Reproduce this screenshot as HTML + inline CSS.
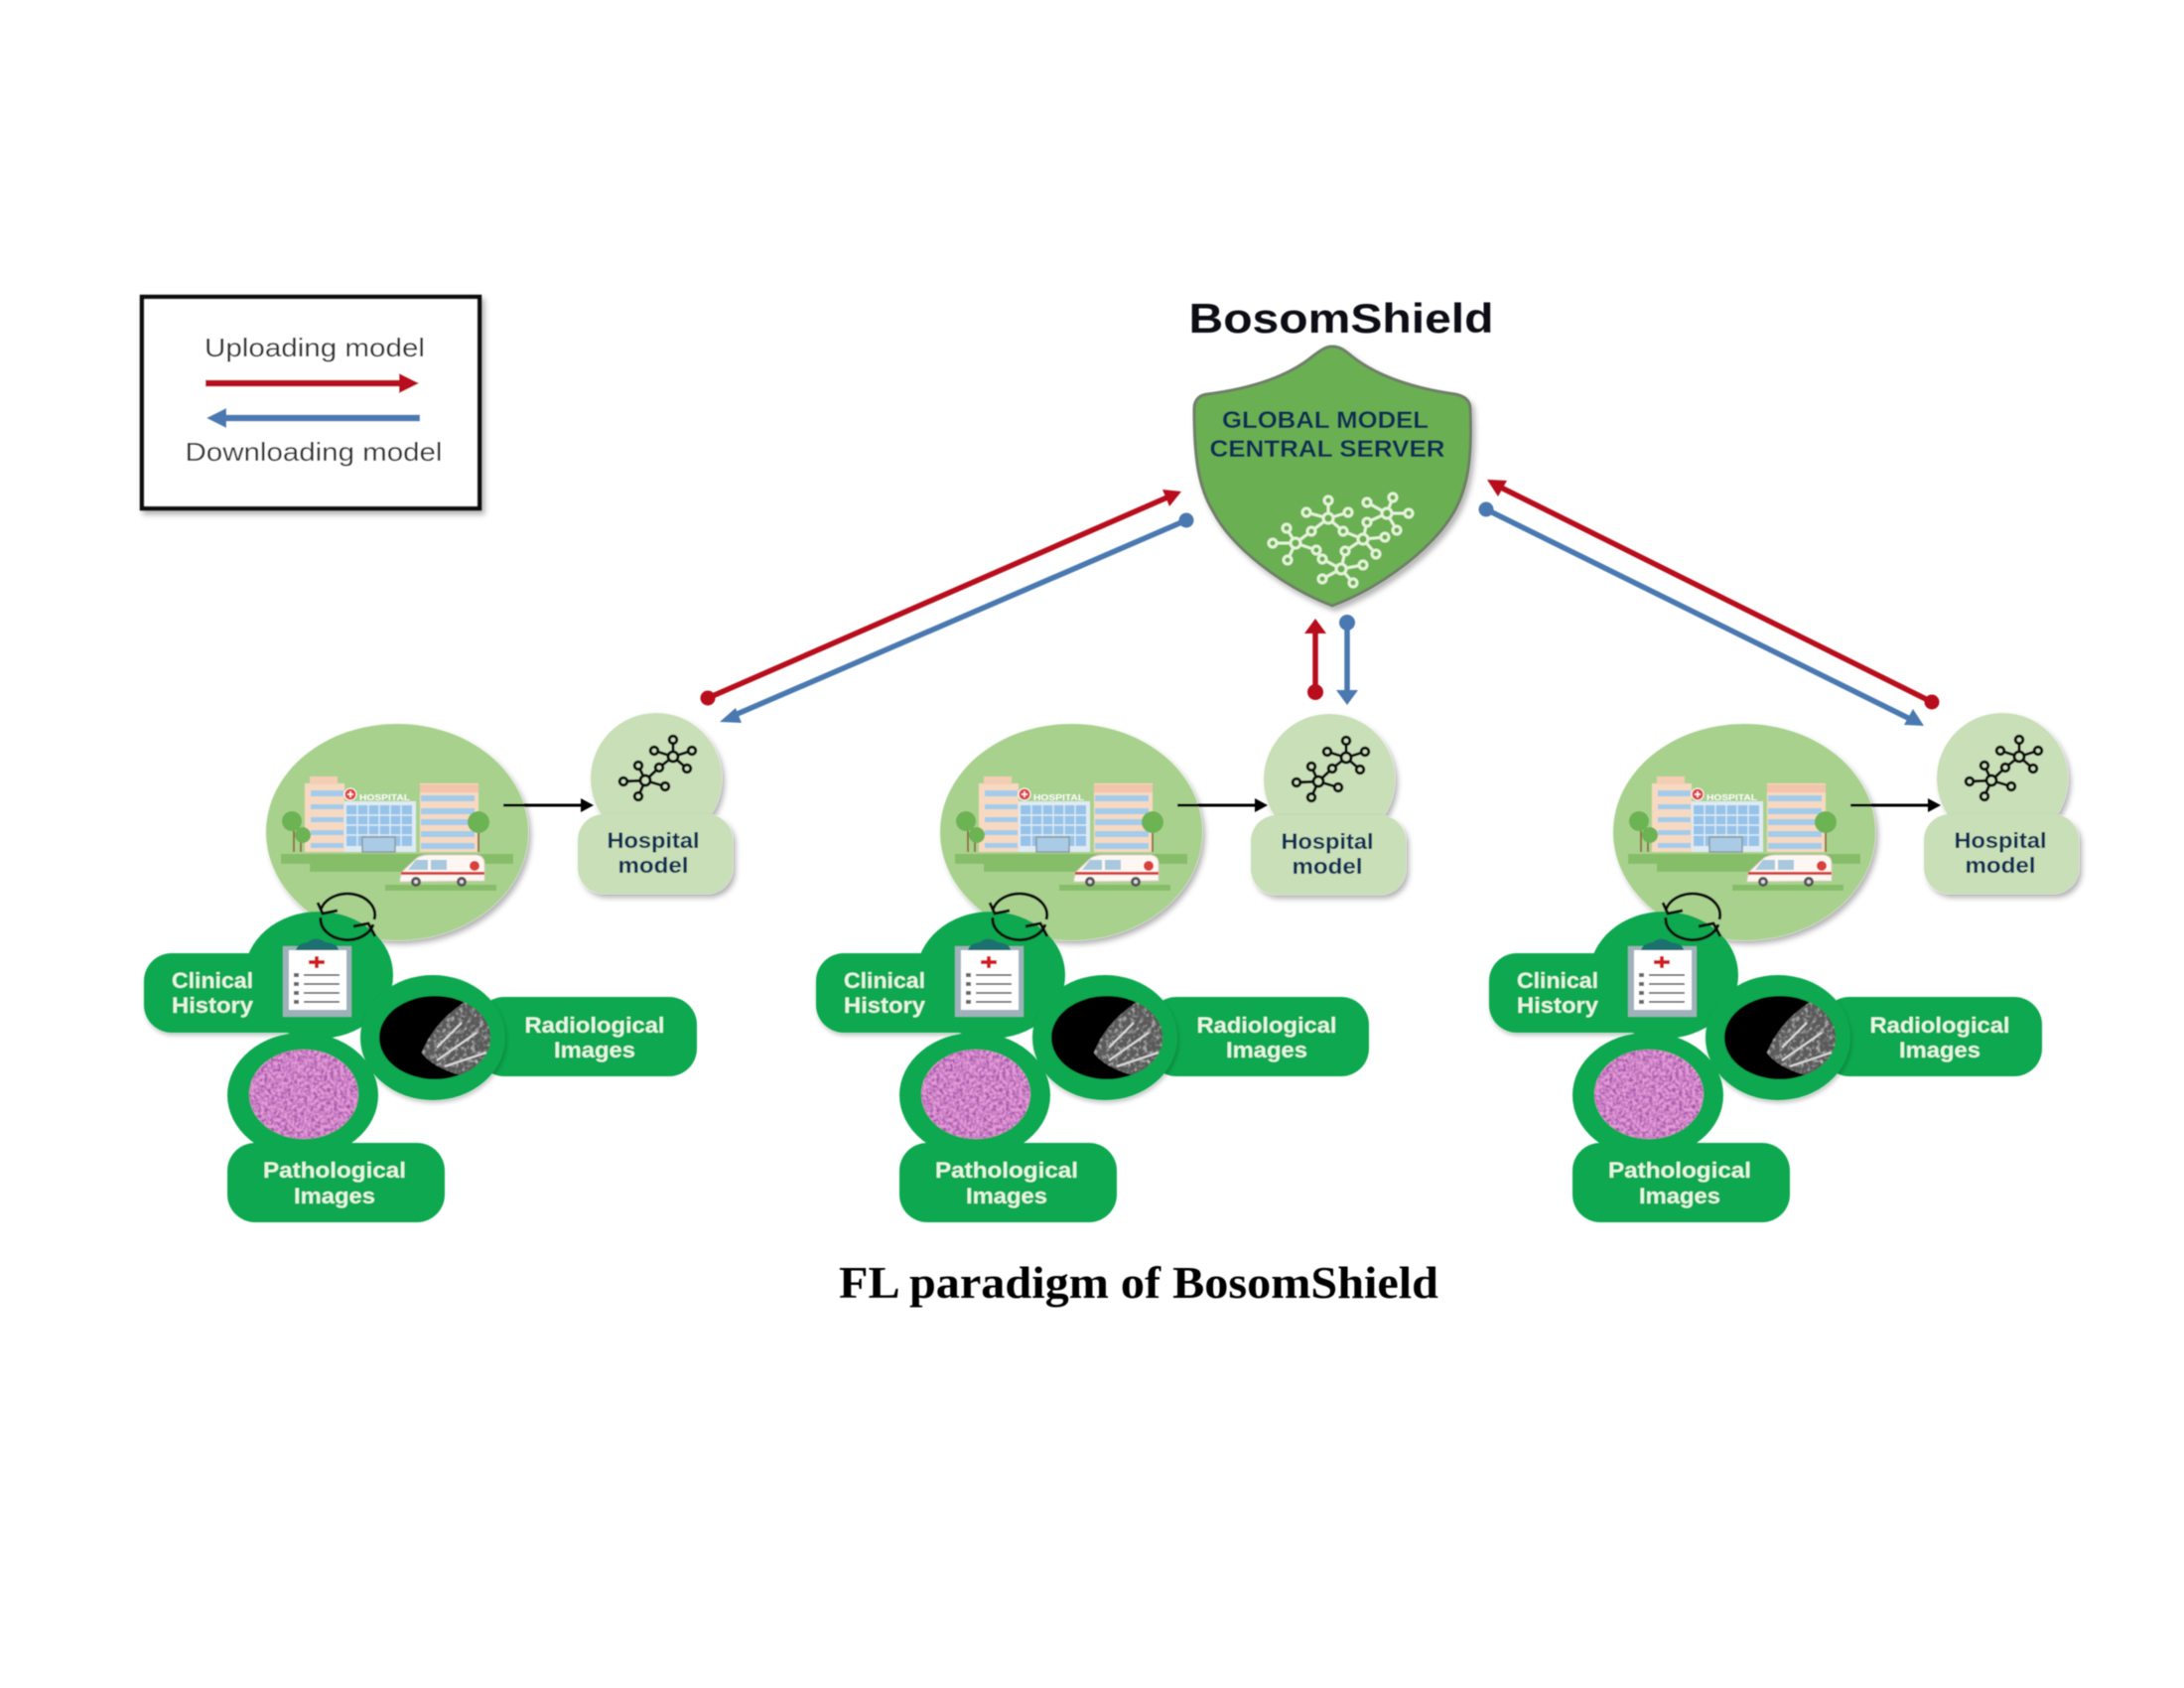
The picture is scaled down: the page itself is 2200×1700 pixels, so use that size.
<!DOCTYPE html>
<html><head><meta charset="utf-8"><style>
html,body{margin:0;padding:0;background:#fff;width:2200px;height:1700px;overflow:hidden}
svg{display:block}
text{font-family:"Liberation Sans",sans-serif}
.b{font-weight:bold;text-anchor:middle;font-size:22px}
.w{fill:#e6f6e4}.n{fill:#102f52}
</style></head><body>
<svg width="2200" height="1700" viewBox="0 0 2200 1700" xmlns="http://www.w3.org/2000/svg">
<defs>
<filter id="s" x="-10%" y="-10%" width="125%" height="125%"><feDropShadow dx="3" dy="4" stdDeviation="3" flood-color="#000" flood-opacity=".3"/></filter>
<filter id="s2" x="-10%" y="-10%" width="120%" height="125%"><feDropShadow dx="1" dy="3" stdDeviation="2" flood-color="#000" flood-opacity=".22"/></filter>
<filter id="bl" x="-2%" y="-2%" width="104%" height="104%"><feGaussianBlur stdDeviation=".5"/></filter>
<filter id="tx" x="0" y="0" width="100%" height="100%"><feTurbulence type="fractalNoise" baseFrequency=".3" numOctaves="3" seed="4"/><feColorMatrix values="0 0 0 0 .36  0 0 0 0 .09  0 0 0 0 .38  2.4 0 0 0 -.85"/><feComposite in2="SourceAlpha" operator="in"/></filter>
<filter id="tg" x="0" y="0" width="100%" height="100%"><feTurbulence type="fractalNoise" baseFrequency=".24" numOctaves="3" seed="9"/><feColorMatrix values="0 0 0 0 .7  0 0 0 0 .7  0 0 0 0 .7  2.2 0 0 0 -1.05"/><feComposite in2="SourceAlpha" operator="in"/></filter>
<clipPath id="mc"><ellipse cx="438" cy="1045" rx="56" ry="42"/></clipPath>

<g id="hosp">
<ellipse cx="400" cy="838" rx="132" ry="109" fill="#a9d18e" filter="url(#s)"/>
<path d="M283 860H517V870H417V878H312V870H283Z" fill="#85bd68"/>
<path d="M388 891H500V897H388Z" fill="#85bd68"/>
<rect x="307" y="789" width="40" height="69" fill="#f6d9c0"/><rect x="312" y="782" width="28" height="8" fill="#f3cdb4"/>
<rect x="423" y="789" width="59" height="69" fill="#f6d9c0"/><rect x="423" y="790" width="59" height="8" fill="#f3c4ac"/>
<path d="M313 796h33v6h-33zM313 810h33v5h-33zM313 823h33v5h-33zM313 836h33v5h-33zM313 849h33v5h-33zM424 801h54v6h-54zM424 814h54v6h-54zM424 825h54v6h-54zM424 837h54v6h-54zM424 849h54v6h-54z" fill="#a3cbea"/>
<rect x="347" y="807" width="72" height="51" fill="#dfeaf3"/>
<rect x="349" y="811" width="66" height="41" fill="#97c3e8"/>
<path d="M360 811v41M371 811v41M382 811v41M393 811v41M404 811v41M349 821h66M349 831h66M349 841h66" stroke="#dcebf5" stroke-width="1.4"/>
<rect x="365" y="843" width="33" height="15" fill="#a9cbe6" stroke="#8c9a9f" stroke-width="1.5"/>
<circle cx="353" cy="800" r="6" fill="#e2403f" stroke="#fff"/><path d="M353 797v6M350 800h6" stroke="#fff" stroke-width="1.6"/>
<text x="362" y="806" style="font-size:8px;font-weight:bold" fill="#fdfdfd" textLength="51" lengthAdjust="spacingAndGlyphs">HOSPITAL</text>
<path d="M296 825v33M303 838v20" stroke="#8a6a3a" stroke-width="1.8"/>
<circle cx="294" cy="827" r="10" fill="#6cb352"/><circle cx="305" cy="841" r="8" fill="#6cb352"/>
<path d="M482 830v28" stroke="#8a6a3a" stroke-width="1.8"/><circle cx="482" cy="828" r="11" fill="#6cb352"/>
<path d="M403 885L405 878L420 864Q425 861 432 861L480 861Q488 862 488 870L488 887L403 888Z" fill="#fdf6f2" stroke="#e0d0c8"/>
<path d="M404 878H488V881H404Z" fill="#d8403a"/>
<path d="M419 866h12v10h-20zM434 866h16v10h-16z" fill="#a8c8dd"/>
<circle cx="478" cy="872" r="5" fill="#d8403a"/>
<circle cx="419" cy="888" r="5" fill="#555"/><circle cx="465" cy="888" r="5" fill="#555"/>
<circle cx="419" cy="888" r="2" fill="#ddd"/><circle cx="465" cy="888" r="2" fill="#ddd"/>
<path d="M507 811H590" stroke="#000" stroke-width="3"/><path d="M585 804L598 811L585 818Z" fill="#000"/>
</g>

<g id="model">
<circle cx="661" cy="784" r="66" fill="#c8dfb8" filter="url(#s)"/>
<rect x="582" y="820" width="156" height="80" rx="26" fill="#c8dfb8" filter="url(#s)"/>
<path d="M678 762V745M678 762L659 756M678 762L697 756M678 762L692 774M678 762L664 773L650 786M650 786L643 771M650 786L628 787M650 786L643 802M650 786L670 792" stroke="#111" stroke-width="3"/>
<g fill="#c8dfb8" stroke="#111" stroke-width="3"><circle cx="678" cy="762" r="5"/><circle cx="650" cy="786" r="5"/><circle cx="678" cy="745" r="3.8"/><circle cx="659" cy="756" r="3.8"/><circle cx="697" cy="756" r="3.8"/><circle cx="692" cy="774" r="3.8"/><circle cx="664" cy="773" r="3.8"/><circle cx="643" cy="771" r="3.8"/><circle cx="628" cy="787" r="3.8"/><circle cx="643" cy="802" r="3.8"/><circle cx="670" cy="792" r="3.8"/></g>
</g>

<g id="data">
<g fill="#0aa84f">
<rect x="145" y="960" width="180" height="80" rx="28" filter="url(#s2)"/>
<ellipse cx="321" cy="982" rx="75" ry="64"/>
<rect x="480" y="1004" width="222" height="80" rx="28"/>
<ellipse cx="436" cy="1045" rx="73" ry="63" filter="url(#s2)"/>
<ellipse cx="305" cy="1103" rx="76" ry="63"/>
<rect x="229" y="1151" width="219" height="80" rx="28"/>
</g>
<rect x="285" y="953" width="69" height="71" fill="#9fb2bc"/>
<rect x="291" y="957" width="58" height="60" fill="#fff"/>
<path d="M298 957Q300 950 310 949Q318 942 328 949Q340 950 341 957Z" fill="#1b6f70"/>
<path d="M319 963v12M311 969h16" stroke="#d21a24" stroke-width="4"/>
<path d="M306 982h36M306 991h36M306 1000h36M306 1009h36" stroke="#444" stroke-width="1.4"/>
<path d="M296 980h5v4h-5zM296 989h5v4h-5zM296 998h5v4h-5zM296 1007h5v4h-5z" fill="#666"/>
<ellipse cx="438" cy="1045" rx="56" ry="42" fill="#060606"/>
<g clip-path="url(#mc)"><path d="M500 1000L467 1010Q437 1030 425 1060Q440 1082 500 1090Z" fill="#5a5a5a"/><path d="M500 1000L467 1010Q437 1030 425 1060Q440 1082 500 1090Z" fill="#fff" filter="url(#tg)"/><path d="M465 1030L440 1055M480 1040L440 1068M490 1060L448 1074" stroke="#d8d8d8" stroke-width="2" fill="none"/></g>
<ellipse cx="306" cy="1102" rx="55" ry="45" fill="#e49bd8"/>
<ellipse cx="306" cy="1102" rx="55" ry="45" fill="#b860b0" filter="url(#tx)"/>
<path d="M323 917A27 21 0 0 1 377 926" fill="none" stroke="#111" stroke-width="3"/>
<path d="M376 931A27 21 0 0 1 323 924" fill="none" stroke="#111" stroke-width="3"/>
<path d="M320 909L325 920L340 917" fill="none" stroke="#111" stroke-width="3"/>
<path d="M356 933L371 930L378 943" fill="none" stroke="#111" stroke-width="3"/>
</g>
</defs>

<g filter="url(#bl)">
<!-- legend -->
<rect x="143" y="299" width="340" height="213" fill="#fff" stroke="#111" stroke-width="4.5" filter="url(#s)"/>
<text x="317" y="359" font-size="26" fill="#333" textLength="222" lengthAdjust="spacingAndGlyphs" text-anchor="middle">Uploading model</text>
<path d="M207 386H410" stroke="#b8101f" stroke-width="6.5"/><path d="M402 376L422 386L402 396Z" fill="#b8101f"/>
<path d="M423 421H220" stroke="#4a79b0" stroke-width="6.5"/><path d="M228 411L208 421L228 431Z" fill="#4a79b0"/>
<text x="316" y="464" font-size="26" fill="#333" textLength="259" lengthAdjust="spacingAndGlyphs" text-anchor="middle">Downloading model</text>

<!-- shield -->
<text x="1351" y="335" font-size="42" font-weight="bold" fill="#0c0c14" textLength="307" lengthAdjust="spacingAndGlyphs" text-anchor="middle">BosomShield</text>
<path d="M1342 349C1350 349 1355 353 1362 359C1390 381 1430 392 1466 397C1476 399 1481 404 1481 412C1483 460 1479 490 1465 515C1445 550 1395 590 1342 610C1290 590 1240 550 1222 515C1207 490 1203 460 1203 412C1203 404 1207 398 1216 397C1255 392 1295 381 1322 359C1330 353 1335 349 1342 349Z" fill="#6bb052" stroke="#6f7f68" stroke-width="3" filter="url(#s)"/>
<text x="1335" y="431" font-size="24" font-weight="bold" class="n" textLength="208" lengthAdjust="spacingAndGlyphs" text-anchor="middle">GLOBAL MODEL</text>
<text x="1337" y="460" font-size="24" font-weight="bold" class="n" textLength="237" lengthAdjust="spacingAndGlyphs" text-anchor="middle">CENTRAL SERVER</text>
<path d="M1338 522V504M1338 522L1316 516M1338 522L1358 516M1338 522L1321 535L1305 547M1338 522L1353 535L1373 543M1397 517L1377 506M1397 517L1403 501M1397 517H1419M1397 517L1407 534M1397 517L1377 526L1373 543M1373 543L1395 541M1373 543L1386 558M1373 543L1355 555L1351 573M1305 547L1296 532M1305 547H1282M1305 547L1297 564M1305 547L1326 554M1351 573L1332 563M1351 573L1332 583M1351 573L1363 587M1351 573L1373 569" stroke="#e4f3d8" stroke-width="3" fill="none"/>
<g fill="#6bb052" stroke="#e4f3d8" stroke-width="3">
<circle cx="1338" cy="522" r="5"/><circle cx="1397" cy="517" r="5"/><circle cx="1373" cy="543" r="5"/><circle cx="1305" cy="547" r="5"/><circle cx="1351" cy="573" r="5"/>
<circle cx="1338" cy="504" r="4"/><circle cx="1316" cy="516" r="4"/><circle cx="1358" cy="516" r="4"/><circle cx="1321" cy="535" r="4"/><circle cx="1353" cy="535" r="4"/><circle cx="1377" cy="506" r="4"/><circle cx="1403" cy="501" r="4"/><circle cx="1419" cy="517" r="4"/><circle cx="1407" cy="534" r="4"/><circle cx="1377" cy="526" r="4"/><circle cx="1395" cy="541" r="4"/><circle cx="1386" cy="558" r="4"/><circle cx="1355" cy="555" r="4"/><circle cx="1296" cy="532" r="4"/><circle cx="1282" cy="547" r="4"/><circle cx="1297" cy="564" r="4"/><circle cx="1326" cy="554" r="4"/><circle cx="1332" cy="563" r="4"/><circle cx="1332" cy="583" r="4"/><circle cx="1363" cy="587" r="4"/><circle cx="1373" cy="569" r="4"/>
</g>

<!-- columns -->
<use href="#hosp"/><use href="#hosp" x="679"/><use href="#hosp" x="1357"/>
<use href="#model"/><use href="#model" x="678" y="1"/><use href="#model" x="1356"/>
<use href="#data"/><use href="#data" x="677"/><use href="#data" x="1355"/>

<text class="b n" x="658" y="854" font-size="22" textLength="93" lengthAdjust="spacingAndGlyphs">Hospital</text><text class="b n" x="658" y="879" textLength="71" lengthAdjust="spacingAndGlyphs">model</text>
<text class="b n" x="1337" y="855" textLength="93" lengthAdjust="spacingAndGlyphs">Hospital</text><text class="b n" x="1337" y="880" textLength="71" lengthAdjust="spacingAndGlyphs">model</text>
<text class="b n" x="2015" y="854" textLength="93" lengthAdjust="spacingAndGlyphs">Hospital</text><text class="b n" x="2015" y="879" textLength="71" lengthAdjust="spacingAndGlyphs">model</text>

<g class="w">
<text class="b w" x="214" y="995" textLength="82" lengthAdjust="spacingAndGlyphs">Clinical</text><text class="b w" x="214" y="1020" textLength="82" lengthAdjust="spacingAndGlyphs">History</text>
<text class="b w" x="599" y="1040" textLength="141" lengthAdjust="spacingAndGlyphs">Radiological</text><text class="b w" x="599" y="1065" textLength="82" lengthAdjust="spacingAndGlyphs">Images</text>
<text class="b w" x="337" y="1186" textLength="144" lengthAdjust="spacingAndGlyphs">Pathological</text><text class="b w" x="337" y="1212" textLength="82" lengthAdjust="spacingAndGlyphs">Images</text>
<text class="b w" x="891" y="995" textLength="82" lengthAdjust="spacingAndGlyphs">Clinical</text><text class="b w" x="891" y="1020" textLength="82" lengthAdjust="spacingAndGlyphs">History</text>
<text class="b w" x="1276" y="1040" textLength="141" lengthAdjust="spacingAndGlyphs">Radiological</text><text class="b w" x="1276" y="1065" textLength="82" lengthAdjust="spacingAndGlyphs">Images</text>
<text class="b w" x="1014" y="1186" textLength="144" lengthAdjust="spacingAndGlyphs">Pathological</text><text class="b w" x="1014" y="1212" textLength="82" lengthAdjust="spacingAndGlyphs">Images</text>
<text class="b w" x="1569" y="995" textLength="82" lengthAdjust="spacingAndGlyphs">Clinical</text><text class="b w" x="1569" y="1020" textLength="82" lengthAdjust="spacingAndGlyphs">History</text>
<text class="b w" x="1954" y="1040" textLength="141" lengthAdjust="spacingAndGlyphs">Radiological</text><text class="b w" x="1954" y="1065" textLength="82" lengthAdjust="spacingAndGlyphs">Images</text>
<text class="b w" x="1692" y="1186" textLength="144" lengthAdjust="spacingAndGlyphs">Pathological</text><text class="b w" x="1692" y="1212" textLength="82" lengthAdjust="spacingAndGlyphs">Images</text>
</g>

<!-- connectors -->
<g stroke-width="5.5" fill="none">
<path d="M713 703L1178 500" stroke="#b8101f"/><path d="M1195 524L738 721" stroke="#4a79b0"/>
<path d="M1325 697V636" stroke="#b8101f"/><path d="M1357 627V698" stroke="#4a79b0"/>
<path d="M1946 707L1510 490" stroke="#b8101f"/><path d="M1497 513L1926 725" stroke="#4a79b0"/>
</g>
<g fill="#b8101f">
<circle cx="713" cy="703" r="7.5"/><path d="M1190 495L1171 493L1178 510Z"/>
<circle cx="1325" cy="697" r="8"/><path d="M1325 623L1336 638H1314Z"/>
<circle cx="1946" cy="707" r="7.5"/><path d="M1498 483L1518 484L1509 500Z"/>
</g>
<g fill="#4a79b0">
<circle cx="1195" cy="524" r="7.5"/><path d="M725 727L741 713L747 728Z"/>
<circle cx="1357" cy="627" r="8"/><path d="M1357 710L1346 695H1368Z"/>
<circle cx="1497" cy="513" r="7.5"/><path d="M1938 731L1918 730L1927 714Z"/>
</g>

<text x="1147" y="1307" style="font-family:'Liberation Serif',serif" font-size="46" font-weight="bold" fill="#000" textLength="604" lengthAdjust="spacingAndGlyphs" text-anchor="middle">FL paradigm of BosomShield</text>
</g>
</svg>
</body></html>
